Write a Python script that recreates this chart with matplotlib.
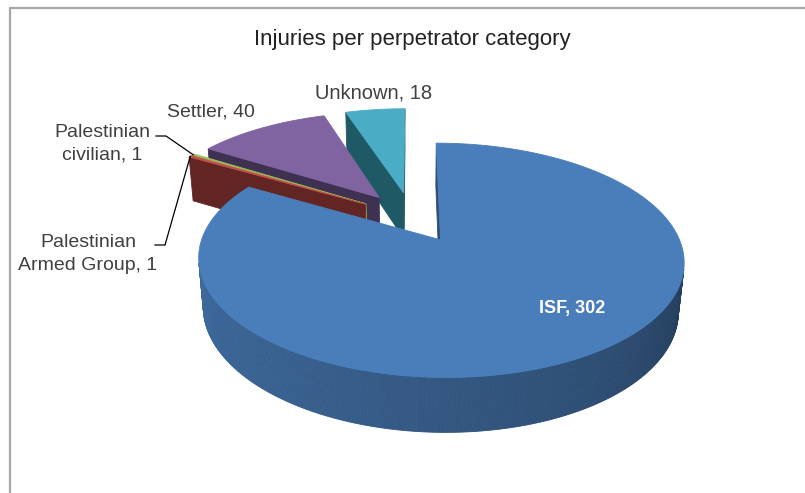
import numpy as np
import matplotlib.pyplot as plt
from matplotlib.patches import Polygon
from matplotlib.colors import to_rgb

# chart data
categories = ["ISF", "Palestinian Armed Group", "Palestinian civilian", "Settler", "Unknown"]
values = [302, 1, 1, 40, 18]
label_texts = ["ISF, 302", "Palestinian\nArmed Group, 1", "Palestinian\ncivilian, 1",
               "Settler, 40", "Unknown, 18"]
title = "Injuries per perpetrator category"

# Excel 2007 default palette
top_colors = ["#4A7EBB", "#C0504D", "#9BBB59", "#8064A2", "#4BACC6"]
side_colors = ["#2E4D75", "#632523", "#B8CC4A", "#3F3151", "#1F5966"]

# 3D view of the pie (pixel space)
ELEV = np.radians(27.3)
DIST = 5.27
FOCAL = 1215
CX, CY = 412, 217
DEPTH = 0.235
EXPLODE = 0.24
R = 1.0

fwd = np.array([0, np.cos(ELEV), -np.sin(ELEV)])
up = np.array([0, np.sin(ELEV), np.cos(ELEV)])
cam = -DIST * fwd


def proj(p):
    p = np.atleast_2d(p)
    d = DIST + p @ fwd
    x = CX + FOCAL * p[:, 0] / d
    y = CY - FOCAL * (p @ up) / d
    return np.column_stack([x, y])


def facing(normal, point):
    return np.dot(normal, cam - point) > 0


def unit(a):
    return np.array([np.cos(a), np.sin(a), 0.0])


def shade(color, k):
    return tuple(np.clip(np.array(to_rgb(color)) * k, 0, 1))


vals = np.array(values, float)
cum = np.concatenate([[0], np.cumsum(vals)]) / vals.sum()
hi_ang = np.radians(90 - 360 * cum[:-1])
lo_ang = np.radians(90 - 360 * cum[1:])
mid_ang = (hi_ang + lo_ang) / 2
offsets = [EXPLODE * unit(m) for m in mid_ang]

fig = plt.figure(figsize=(8.05, 4.93), dpi=100)
ax = fig.add_axes([0, 0, 1, 1])
ax.set_xlim(0, 805)
ax.set_ylim(493, 0)
ax.axis("off")

down = np.array([0, 0, DEPTH])
order = sorted(range(len(values)), key=lambda i: -np.dot(offsets[i], fwd))
for i in order:
    o = offsets[i]
    lo, hi = lo_ang[i], hi_ang[i]
    n = max(int(np.degrees(hi - lo)) * 2, 3)
    t = np.linspace(lo, hi, n)
    ring = np.array([o + R * unit(a) for a in t])
    ring_b = ring - down

    # outer curved wall
    for j in range(n - 1):
        tm = (t[j] + t[j + 1]) / 2
        nrm = unit(tm)
        if not facing(nrm, o + R * nrm - down / 2):
            continue
        tt = np.mod(tm, 2 * np.pi)
        frac = np.clip((2 * np.pi - tt) / np.pi, 0, 1)
        k = 0.42 + 0.44 * frac ** 0.7
        c = shade(top_colors[i], k)
        quad = proj(np.array([ring[j], ring[j + 1], ring_b[j + 1], ring_b[j]]))
        ax.add_patch(Polygon(quad, closed=True, facecolor=c, edgecolor=c, lw=0.6))

    # flat radial walls
    for a, nrm_a in ((lo, lo - np.pi / 2), (hi, hi + np.pi / 2)):
        pts = np.array([o, o + R * unit(a), o + R * unit(a) - down, o - down])
        if facing(unit(nrm_a), pts.mean(axis=0)):
            ax.add_patch(Polygon(proj(pts), closed=True, facecolor=side_colors[i],
                                 edgecolor=side_colors[i], lw=0.6))

    # top face
    top = proj(np.vstack([o, ring]))
    ax.add_patch(Polygon(top, closed=True, facecolor=top_colors[i],
                         edgecolor=top_colors[i], lw=0.6))

# labels
font = ["Liberation Sans Narrow", "Liberation Sans", "DejaVu Sans"]
txt_color = "#404040"
ax.text(412, 40, title, ha="center", va="center", fontsize=16, color="#222222", family=font)
ax.text(572, 308, label_texts[0], ha="center", va="center", fontsize=13,
        color="white", fontweight="bold", family=font)
ax.text(374, 93, label_texts[4], ha="center", va="center", fontsize=14.5, color=txt_color, family=font)
ax.text(211, 112, label_texts[3], ha="center", va="center", fontsize=14, color=txt_color, family=font)
ax.text(102, 144, label_texts[2], ha="center", va="center", fontsize=14, color=txt_color,
        family=font, linespacing=1.45)
ax.text(88, 254, label_texts[1], ha="center", va="center", fontsize=14, color=txt_color,
        family=font, linespacing=1.45)

# leader lines to the two tiny slices
for i, (lx, ly) in ((2, (156, 136)), (1, (155, 245))):
    anchor = proj(offsets[i] + R * unit(mid_ang[i]))[0]
    ax.plot([lx, lx + 10, anchor[0]], [ly, ly, anchor[1]], color="black", lw=0.9)

# chart frame
ax.plot([9, 805], [8, 8], color="#A6A6A6", lw=1.6, solid_capstyle="butt")
ax.plot([10, 10], [8, 493], color="#A6A6A6", lw=1.6, solid_capstyle="butt")

fig.savefig("out.png", dpi=100)
